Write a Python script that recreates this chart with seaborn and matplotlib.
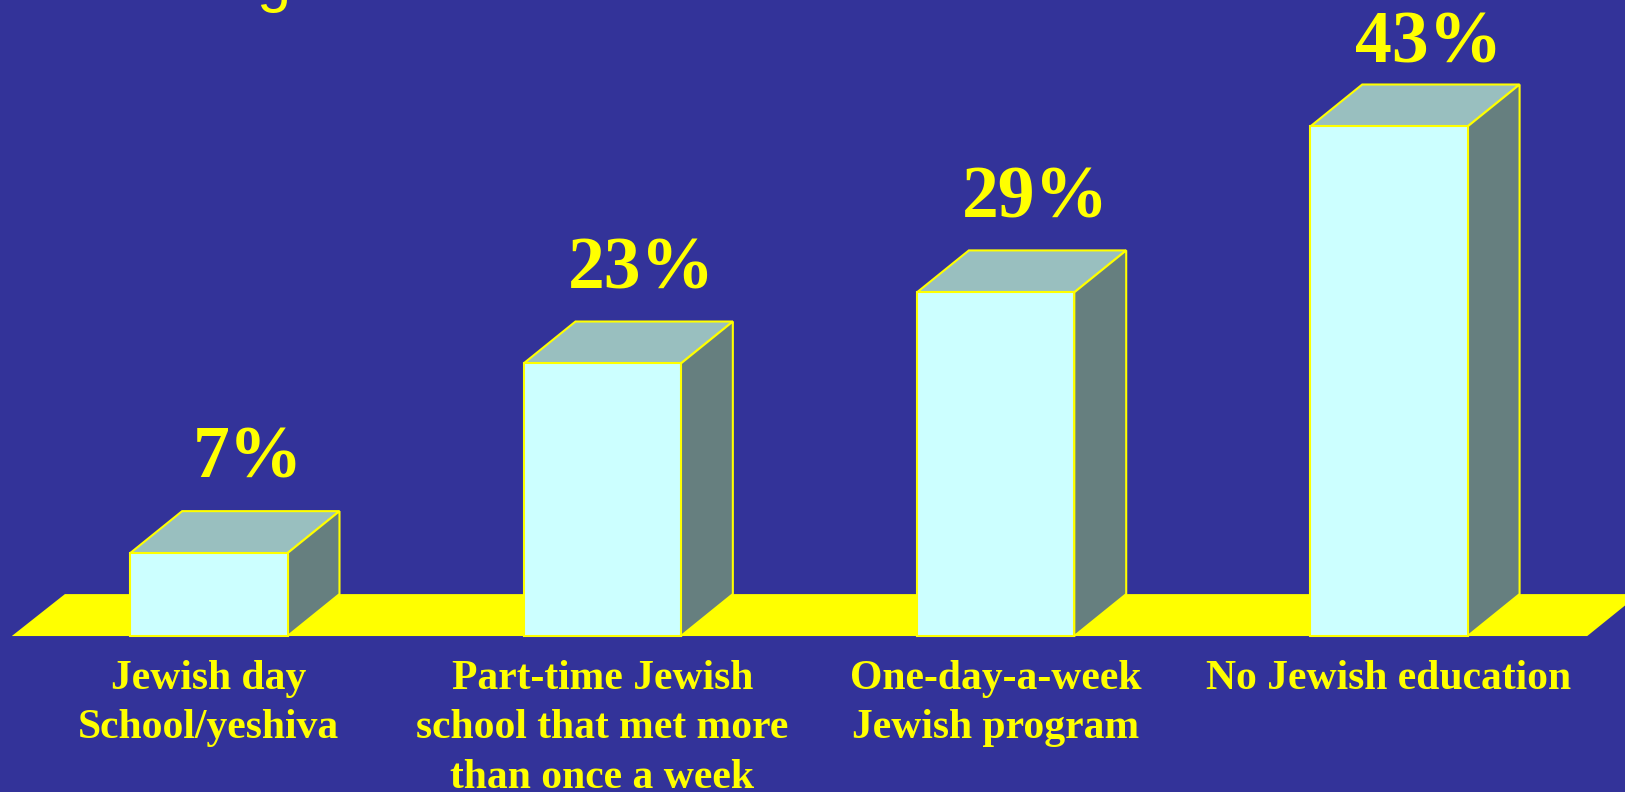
import pandas as pd
import matplotlib.pyplot as plt
import seaborn as sns
from matplotlib.patches import Polygon

categories = ["Jewish day\nSchool/yeshiva",
              "Part-time Jewish\nschool that met more\nthan once a week",
              "One-day-a-week\nJewish program",
              "No Jewish education"]
values = [7, 23, 29, 43]
value_labels = ["7%", "23%", "29%", "43%"]

bg = "#333399"
front = "#CCFFFF"
top = "#99BFBF"
side = "#667F7F"
yellow = "#FFFF00"

df = pd.DataFrame({"cat": categories, "val": values})

fig = plt.figure(figsize=(16.25, 7.92), dpi=100, facecolor=bg)
ax = fig.add_axes([0, 0, 1, 1])
ax.set_facecolor(bg)

w = 0.4
dx, dy = 0.132, 3.54

# floor
ax.add_patch(Polygon([(-0.501, 0), (3.504, 0), (3.504 + dx, dy), (-0.501 + dx + 0.003, dy)],
                     closed=True, facecolor=yellow, edgecolor="none", zorder=1))

sns.barplot(data=df, x="cat", y="val", width=w, color=front, saturation=1,
            edgecolor=yellow, linewidth=1.5, ax=ax, zorder=3)

for i, v in enumerate(values):
    x0, x1 = i - w / 2, i + w / 2
    ax.add_patch(Polygon([(x0, v), (x1, v), (x1 + dx, v + dy), (x0 + dx, v + dy)],
                         closed=True, facecolor=top, edgecolor=yellow, linewidth=1.5, zorder=2))
    ax.add_patch(Polygon([(x1, 0), (x1 + dx, dy), (x1 + dx, v + dy), (x1, v)],
                         closed=True, facecolor=side, edgecolor=yellow, linewidth=1.5, zorder=2))
    ax.text(i + 0.1, min(v + dy + 2.8, 48.4), value_labels[i], ha="center", va="baseline",
            color=yellow, fontsize=53, fontweight="bold", family="Liberation Serif")
    ax.text(i, -2.0, categories[i], ha="center", va="top", color=yellow, fontsize=30,
            fontweight="bold", family="Liberation Serif", linespacing=1.4)

# clipped title fragment at the top edge
fig.text(256 / 1625, 1.0, "g", ha="left", va="baseline", color=yellow,
         fontsize=44, family="Liberation Sans")

ax.set_xlim(-0.531, 3.600)
ax.set_ylim(-13.16, 53.67)
ax.axis("off")

plt.savefig("out.png", dpi=100, facecolor=bg)
